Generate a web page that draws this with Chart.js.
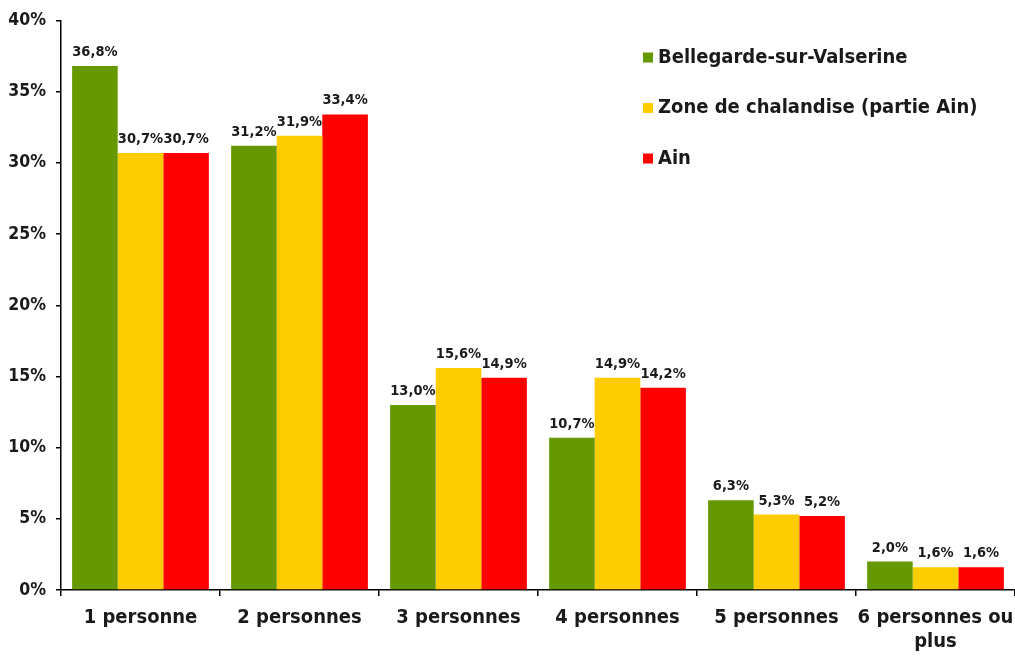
<!DOCTYPE html>
<html>
<head>
<meta charset="utf-8">
<script src="https://cdn.jsdelivr.net/npm/chart.js@4.4.0/dist/chart.umd.min.js"></script>
<style>
  body { margin: 0; background: #fff; }
  canvas { display: block; }
</style>
</head>
<body>
<canvas id="menages" width="1015" height="657"></canvas>
<script>
// Données du graphique
const categories = ['1 personne', '2 personnes', '3 personnes', '4 personnes', '5 personnes', ['6 personnes ou', 'plus']];
const seriesNames = ['Bellegarde-sur-Valserine', 'Zone de chalandise (partie Ain)', 'Ain'];
const bellegarde = [36.8, 31.2, 13.0, 10.7, 6.3, 2.0];
const zoneChalandise = [30.7, 31.9, 15.6, 14.9, 5.3, 1.6];
const ain = [30.7, 33.4, 14.9, 14.2, 5.2, 1.6];
const yTicks = [0, 5, 10, 15, 20, 25, 30, 35, 40];

const colors = ['#669900', '#ffcc00', '#ff0000'];
const fontFamily = "'DejaVu Sans Condensed', 'DejaVu Sans', sans-serif";

// Étiquettes de valeurs au-dessus des barres
const valueLabels = {
    id: 'valueLabels',
    afterDatasetsDraw(chart) {
        const ctx = chart.ctx;
        ctx.save();
        ctx.font = 'bold 14.5px ' + fontFamily;
        ctx.fillStyle = '#1a1a1a';
        ctx.textAlign = 'center';
        ctx.textBaseline = 'alphabetic';
        chart.data.datasets.forEach(function (ds, i) {
            chart.getDatasetMeta(i).data.forEach(function (bar, j) {
                const txt = ds.data[j].toFixed(1).replace('.', ',') + '%';
                ctx.fillText(txt, bar.x, bar.y - 10);
            });
        });
        ctx.restore();
    }
};

// Légende dessinée à la main (dans la zone du graphique)
const sideLegend = {
    id: 'sideLegend',
    afterDraw(chart) {
        const ctx = chart.ctx;
        ctx.save();
        ctx.font = 'bold 20px ' + fontFamily;
        ctx.textBaseline = 'middle';
        ctx.textAlign = 'left';
        chart.data.datasets.forEach(function (ds, i) {
            const y = 57.5 + i * 50.5;
            ctx.fillStyle = ds.backgroundColor;
            ctx.fillRect(643, y - 5, 10, 10);
            ctx.fillStyle = '#1a1a1a';
            ctx.fillText(ds.label, 658, y);
        });
        ctx.restore();
    }
};

const ctx = document.getElementById('menages').getContext('2d');

const chart = new Chart(ctx, {
    type: 'bar',
    data: {
        labels: categories,
        datasets: [{
            label: seriesNames[0],
            data: bellegarde,
            backgroundColor: colors[0]
        }, {
            label: seriesNames[1],
            data: zoneChalandise,
            backgroundColor: colors[1]
        }, {
            label: seriesNames[2],
            data: ain,
            backgroundColor: colors[2]
        }]
    },
    options: {
        responsive: false,
        animation: false,
        layout: {
            padding: { top: 20, right: 0, left: 0, bottom: 0 }
        },
        datasets: {
            bar: {
                categoryPercentage: 0.86,
                barPercentage: 1.0
            }
        },
        plugins: {
            legend: { display: false },
            tooltip: { enabled: false }
        },
        scales: {
            x: {
                afterFit(scale) {
                    scale.height = 67;
                    scale.paddingLeft = 0;
                    scale.paddingRight = 0;
                },
                grid: {
                    offset: true,
                    drawOnChartArea: false,
                    drawTicks: true,
                    tickLength: 6,
                    color: '#000',
                    lineWidth: 1.5
                },
                border: { display: true, color: '#000', width: 1.5 },
                ticks: {
                    color: '#1a1a1a',
                    padding: 10,
                    maxRotation: 0,
                    autoSkip: false,
                    font: { family: fontFamily, size: 20, weight: 'bold', lineHeight: 1.2 }
                }
            },
            y: {
                min: 0,
                max: 40,
                afterFit(scale) { scale.width = 61; },
                afterBuildTicks(scale) {
                    scale.ticks = yTicks.map(function (v) { return { value: v }; });
                },
                grid: {
                    drawOnChartArea: false,
                    drawTicks: true,
                    tickLength: 5,
                    color: '#000',
                    lineWidth: 1.5
                },
                border: { display: true, color: '#000', width: 1.5 },
                ticks: {
                    color: '#1a1a1a',
                    padding: 10,
                    font: { family: fontFamily, size: 17.5, weight: 'bold' },
                    callback: function (v) { return v + '%'; }
                }
            }
        }
    },
    plugins: [valueLabels, sideLegend]
});
</script>
</body>
</html>
